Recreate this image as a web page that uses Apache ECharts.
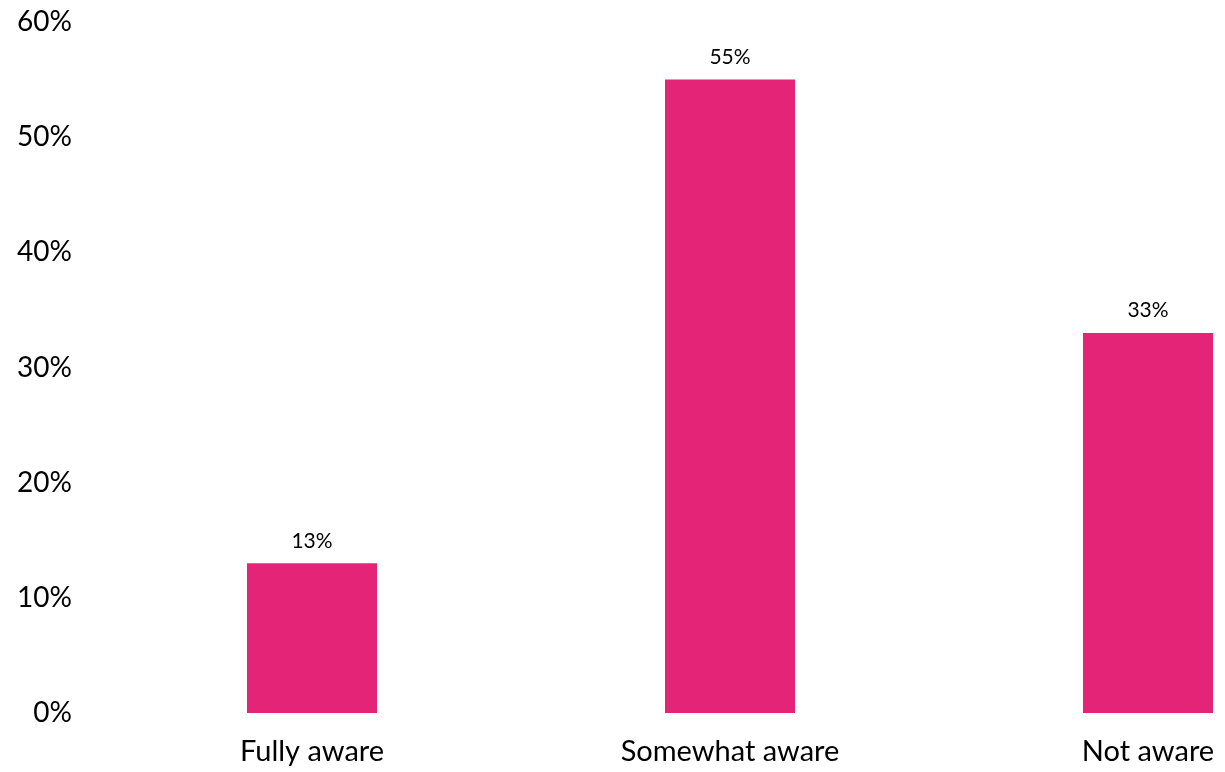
<!DOCTYPE html>
<html>
<head>
<meta charset="utf-8">
<script src="https://cdn.jsdelivr.net/npm/echarts@6/dist/echarts.min.js"></script>
<style>
  html, body { margin: 0; padding: 0; background: #ffffff; }
  #chart { width: 1225px; height: 772px; }
</style>
</head>
<body>
<div id="chart"></div>
<script>
// Awareness levels and their share of respondents (%)
const categories = ['Fully aware', 'Somewhat aware', 'Not aware'];
const shares = [13, 55, 33];
const yTicks = { min: 0, max: 60, interval: 10 };

const FONT = 'Lato';
const chart = echarts.init(document.getElementById('chart'), null, { renderer: 'canvas' });

chart.setOption({
  animation: false,
  backgroundColor: '#ffffff',
  grid: {
    left: 103, top: 22, width: 1254, bottom: 59,
    containLabel: false,
    outerBoundsMode: 'none'
  },
  xAxis: {
    type: 'category',
    data: categories,
    axisLine: { show: false },
    axisTick: { show: false },
    axisLabel: { color: '#000000', fontFamily: FONT, fontSize: 29, margin: 24 }
  },
  yAxis: {
    type: 'value',
    min: yTicks.min,
    max: yTicks.max,
    interval: yTicks.interval,
    axisLine: { show: false },
    axisTick: { show: false },
    splitLine: { show: false },
    axisLabel: {
      color: '#000000', fontFamily: FONT, fontSize: 28, margin: 31,
      formatter: v => v + '%'
    }
  },
  series: [{
    type: 'bar',
    data: shares,
    barWidth: 130,
    itemStyle: { color: '#E32477' },
    label: {
      show: true,
      position: 'top',
      distance: 12,
      color: '#000000',
      fontFamily: FONT,
      fontSize: 21,
      formatter: p => p.value + '%'
    }
  }]
});
</script>
</body>
</html>
